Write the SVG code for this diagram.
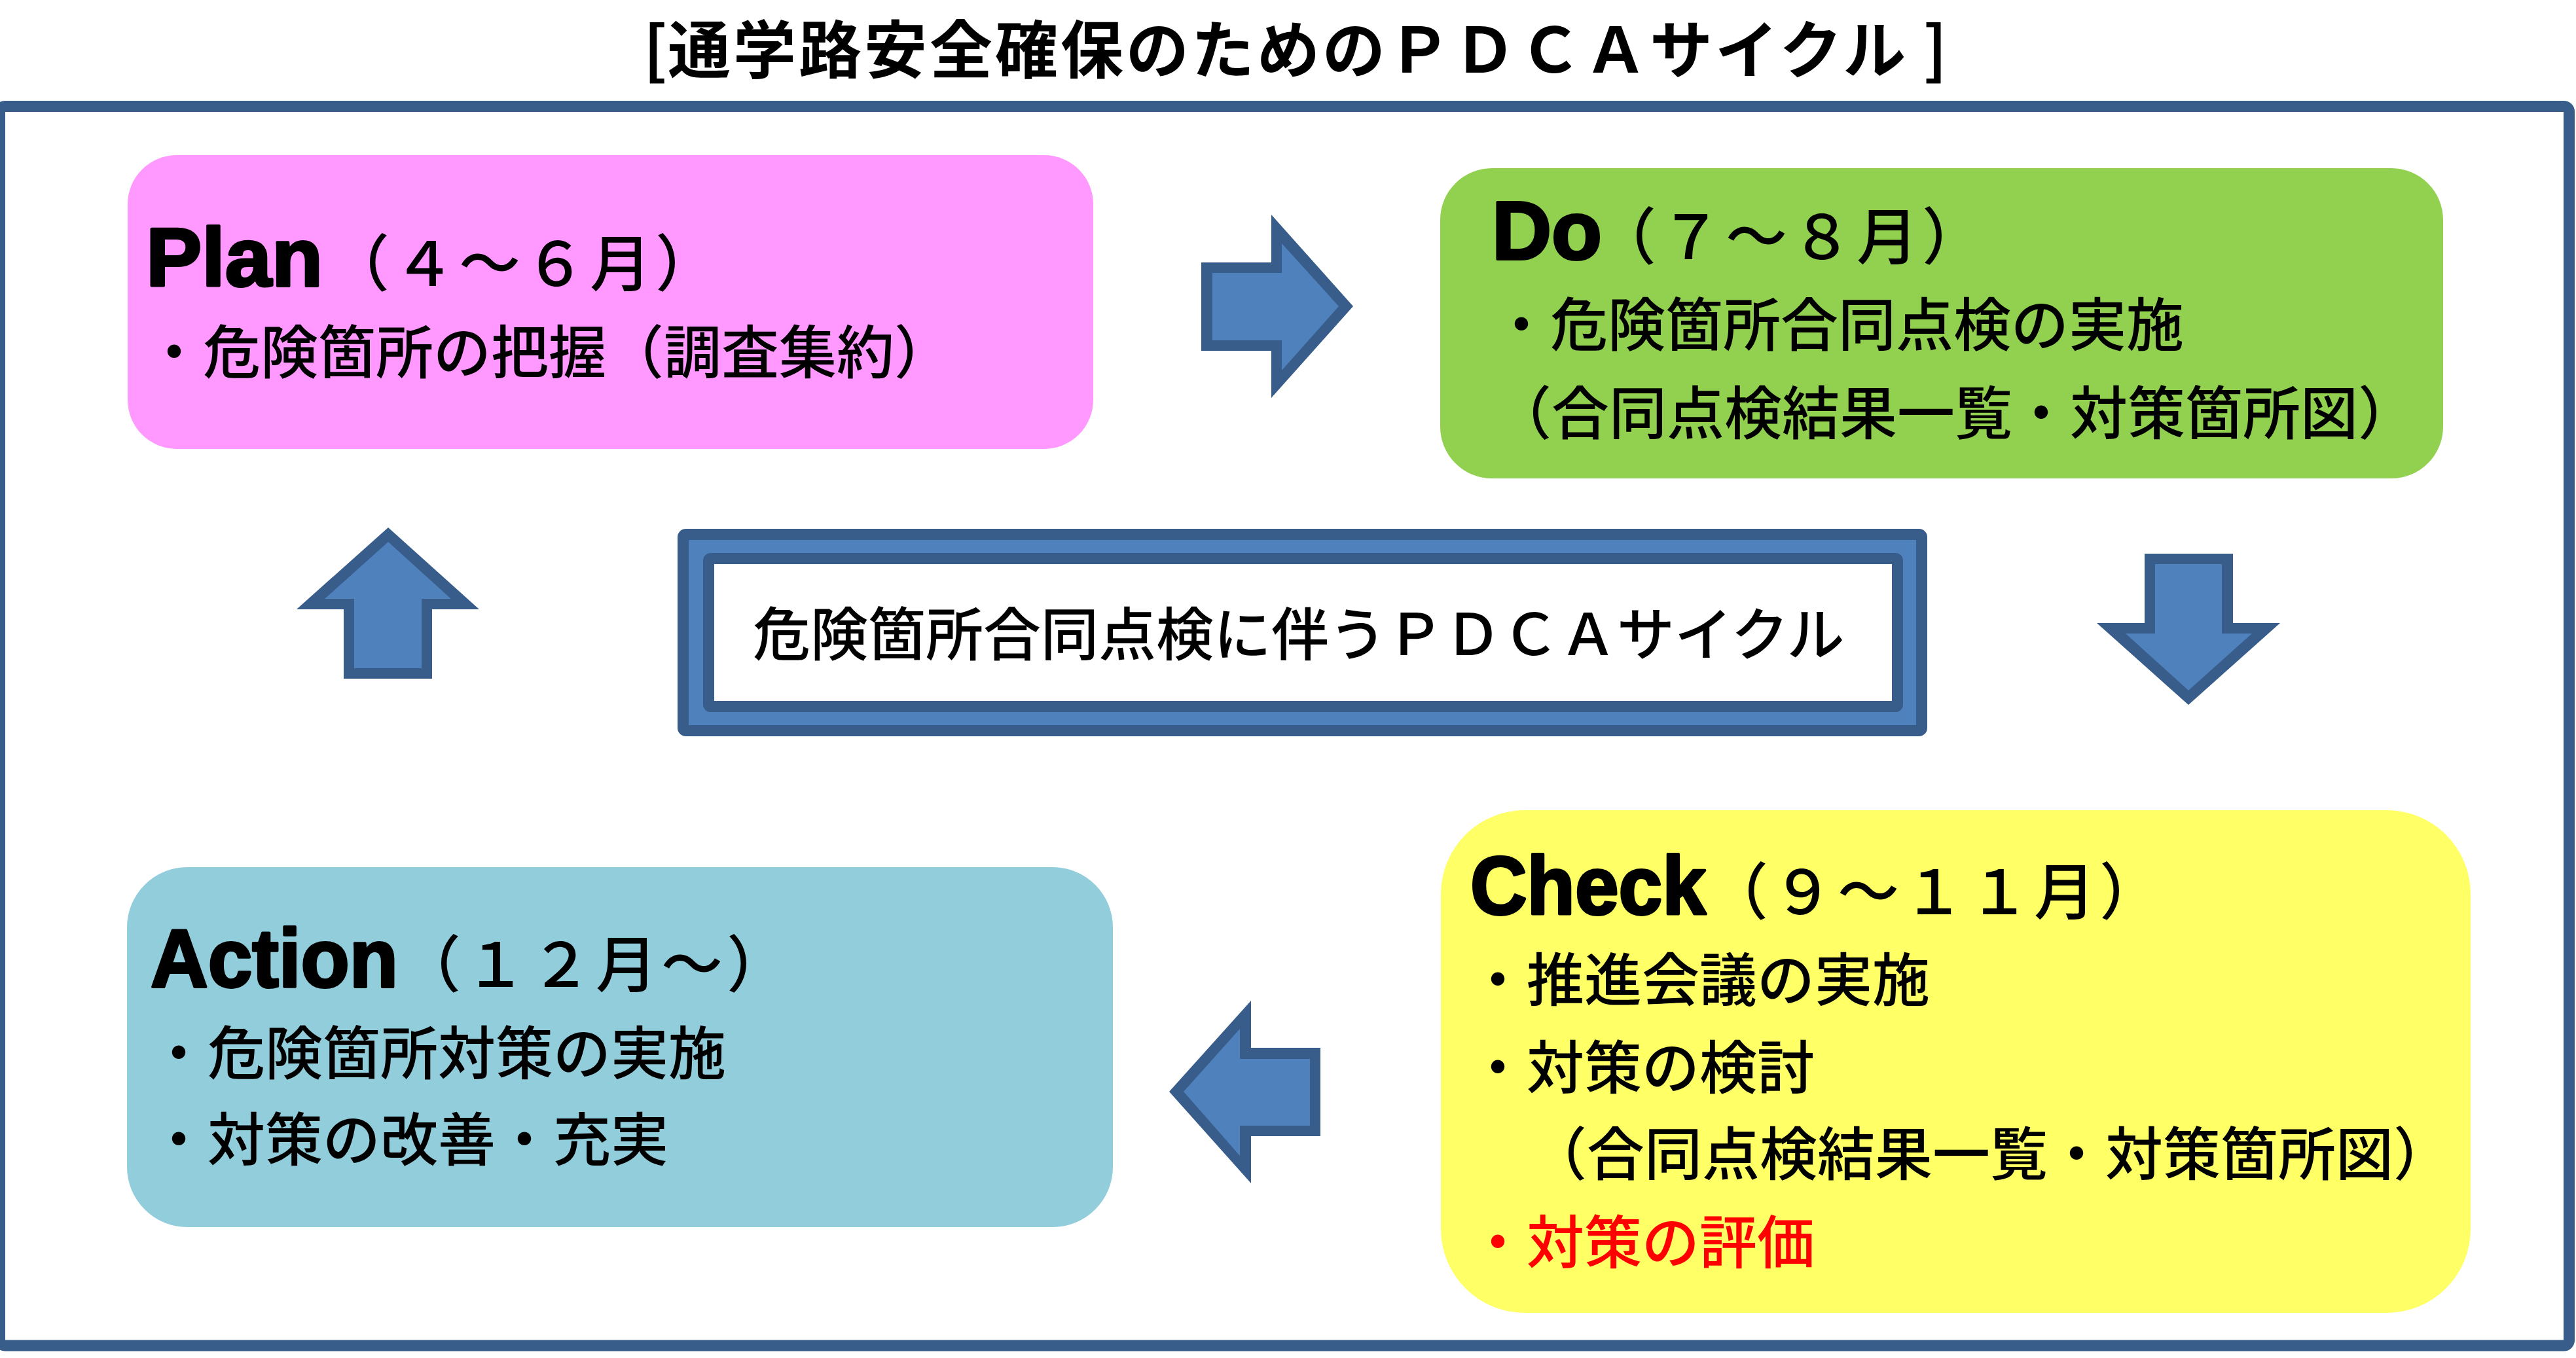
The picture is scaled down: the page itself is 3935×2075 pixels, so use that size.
<svg xmlns="http://www.w3.org/2000/svg" width="3935" height="2075" viewBox="0 0 3935 2075">
<style>
.jp{font-family:"Noto Sans CJK JP","Noto Sans CJK SC",sans-serif;fill:#000}
.b{font-size:88px;font-weight:500}
.pr{font-size:94px;font-weight:500;letter-spacing:6px}
.hd{font-family:"Liberation Sans",Arial,sans-serif;font-weight:700;font-size:126px;fill:#000;stroke:#000;stroke-width:4;stroke-linejoin:round}
.ao{fill:#385D8A}
.ai{fill:#4F81BD}
.red{fill:#FF0000}
</style>
<rect width="3935" height="2075" fill="#FFFFFF"/>
<g id="title">
<text class="jp" y="111" font-size="96" font-weight="700"><tspan x="983">[</tspan><tspan x="1020" letter-spacing="4">通学路安全確保のためのＰＤＣＡサイクル</tspan><tspan x="2938">]</tspan></text>
</g>
<g id="frame">
<rect x="-0.5" y="162.5" width="3925" height="1893.5" rx="8" fill="none" stroke="#385D8A" stroke-width="17"/>
</g>
<g id="plan">
<rect x="195" y="237" width="1475" height="449" rx="75" fill="#FF99FF"/>
<text class="hd" x="223" y="437" textLength="270" lengthAdjust="spacingAndGlyphs">Plan</text>
<text class="jp pr" x="501" y="437">（４～６月）</text>
<text class="jp b" x="222" y="570">・危険箇所の把握（調査集約）</text>
</g>
<g id="do">
<rect x="2200" y="257" width="1532" height="474" rx="79" fill="#92D050"/>
<text class="hd" x="2279" y="396">Do</text>
<text class="jp pr" x="2436" y="396">（７～８月）</text>
<text class="jp b" x="2280" y="528">・危険箇所合同点検の実施</text>
<text class="jp b" x="2282" y="663">（合同点検結果一覧・対策箇所図）</text>
</g>
<g id="check">
<rect x="2201" y="1238" width="1573" height="768" rx="128" fill="#FFFF66"/>
<text class="hd" x="2246" y="1397" textLength="360" lengthAdjust="spacingAndGlyphs">Check</text>
<text class="jp pr" x="2607" y="1397">（９～１１月）</text>
<text class="jp b" x="2244" y="1529">・推進会議の実施</text>
<text class="jp b" x="2244" y="1663">・対策の検討</text>
<text class="jp b" x="2336" y="1795">（合同点検結果一覧・対策箇所図）</text>
<text class="jp b red" x="2244" y="1930">・対策の評価</text>
</g>
<g id="action">
<rect x="194" y="1325" width="1506" height="550" rx="92" fill="#92CDDC"/>
<text class="hd" x="230" y="1508" textLength="378" lengthAdjust="spacingAndGlyphs">Action</text>
<text class="jp pr" x="610" y="1508">（１２月～）</text>
<text class="jp b" x="229" y="1641">・危険箇所対策の実施</text>
<text class="jp b" x="229" y="1773">・対策の改善・充実</text>
</g>
<g id="center">
<rect x="1043.5" y="816.5" width="1892" height="300" rx="4" fill="#4F81BD" stroke="#385D8A" stroke-width="17"/>
<rect x="1082.5" y="853.5" width="1816" height="226" rx="3" fill="#FFFFFF" stroke="#385D8A" stroke-width="17"/>
<text class="jp b" x="1150" y="1001">危険箇所合同点検に伴うＰＤＣＡサイクル</text>
</g>
<g id="connectors">
<g id="arrow-plan-do">
<polygon class="ao" points="1835,401 1942,401 1942,328 2067,468 1942,608 1942,536 1835,536"/>
<polygon class="ai" points="1852,417 1958,417 1958,372 2045,468 1958,566 1958,520 1852,520"/>
</g>
<g id="arrow-do-check">
<polygon class="ao" points="3276,846 3411,846 3411,952 3483,952 3343,1077 3203,952 3276,952"/>
<polygon class="ai" points="3292,862 3394,862 3394,968 3440,968 3343,1055 3247,968 3292,968"/>
</g>
<g id="arrow-check-action">
<polygon class="ao" points="1786,1668 1911,1529 1911,1601 2017,1601 2017,1736 1911,1736 1911,1808"/>
<polygon class="ai" points="1808,1668 1894,1572 1894,1618 2001,1618 2001,1720 1894,1720 1894,1766"/>
</g>
<g id="arrow-action-plan">
<polygon class="ao" points="593,806 732,931 660,931 660,1037 525,1037 525,931 453,931"/>
<polygon class="ai" points="593,828 689,915 644,915 644,1021 541,1021 541,915 496,915"/>
</g>
</g>
</svg>
